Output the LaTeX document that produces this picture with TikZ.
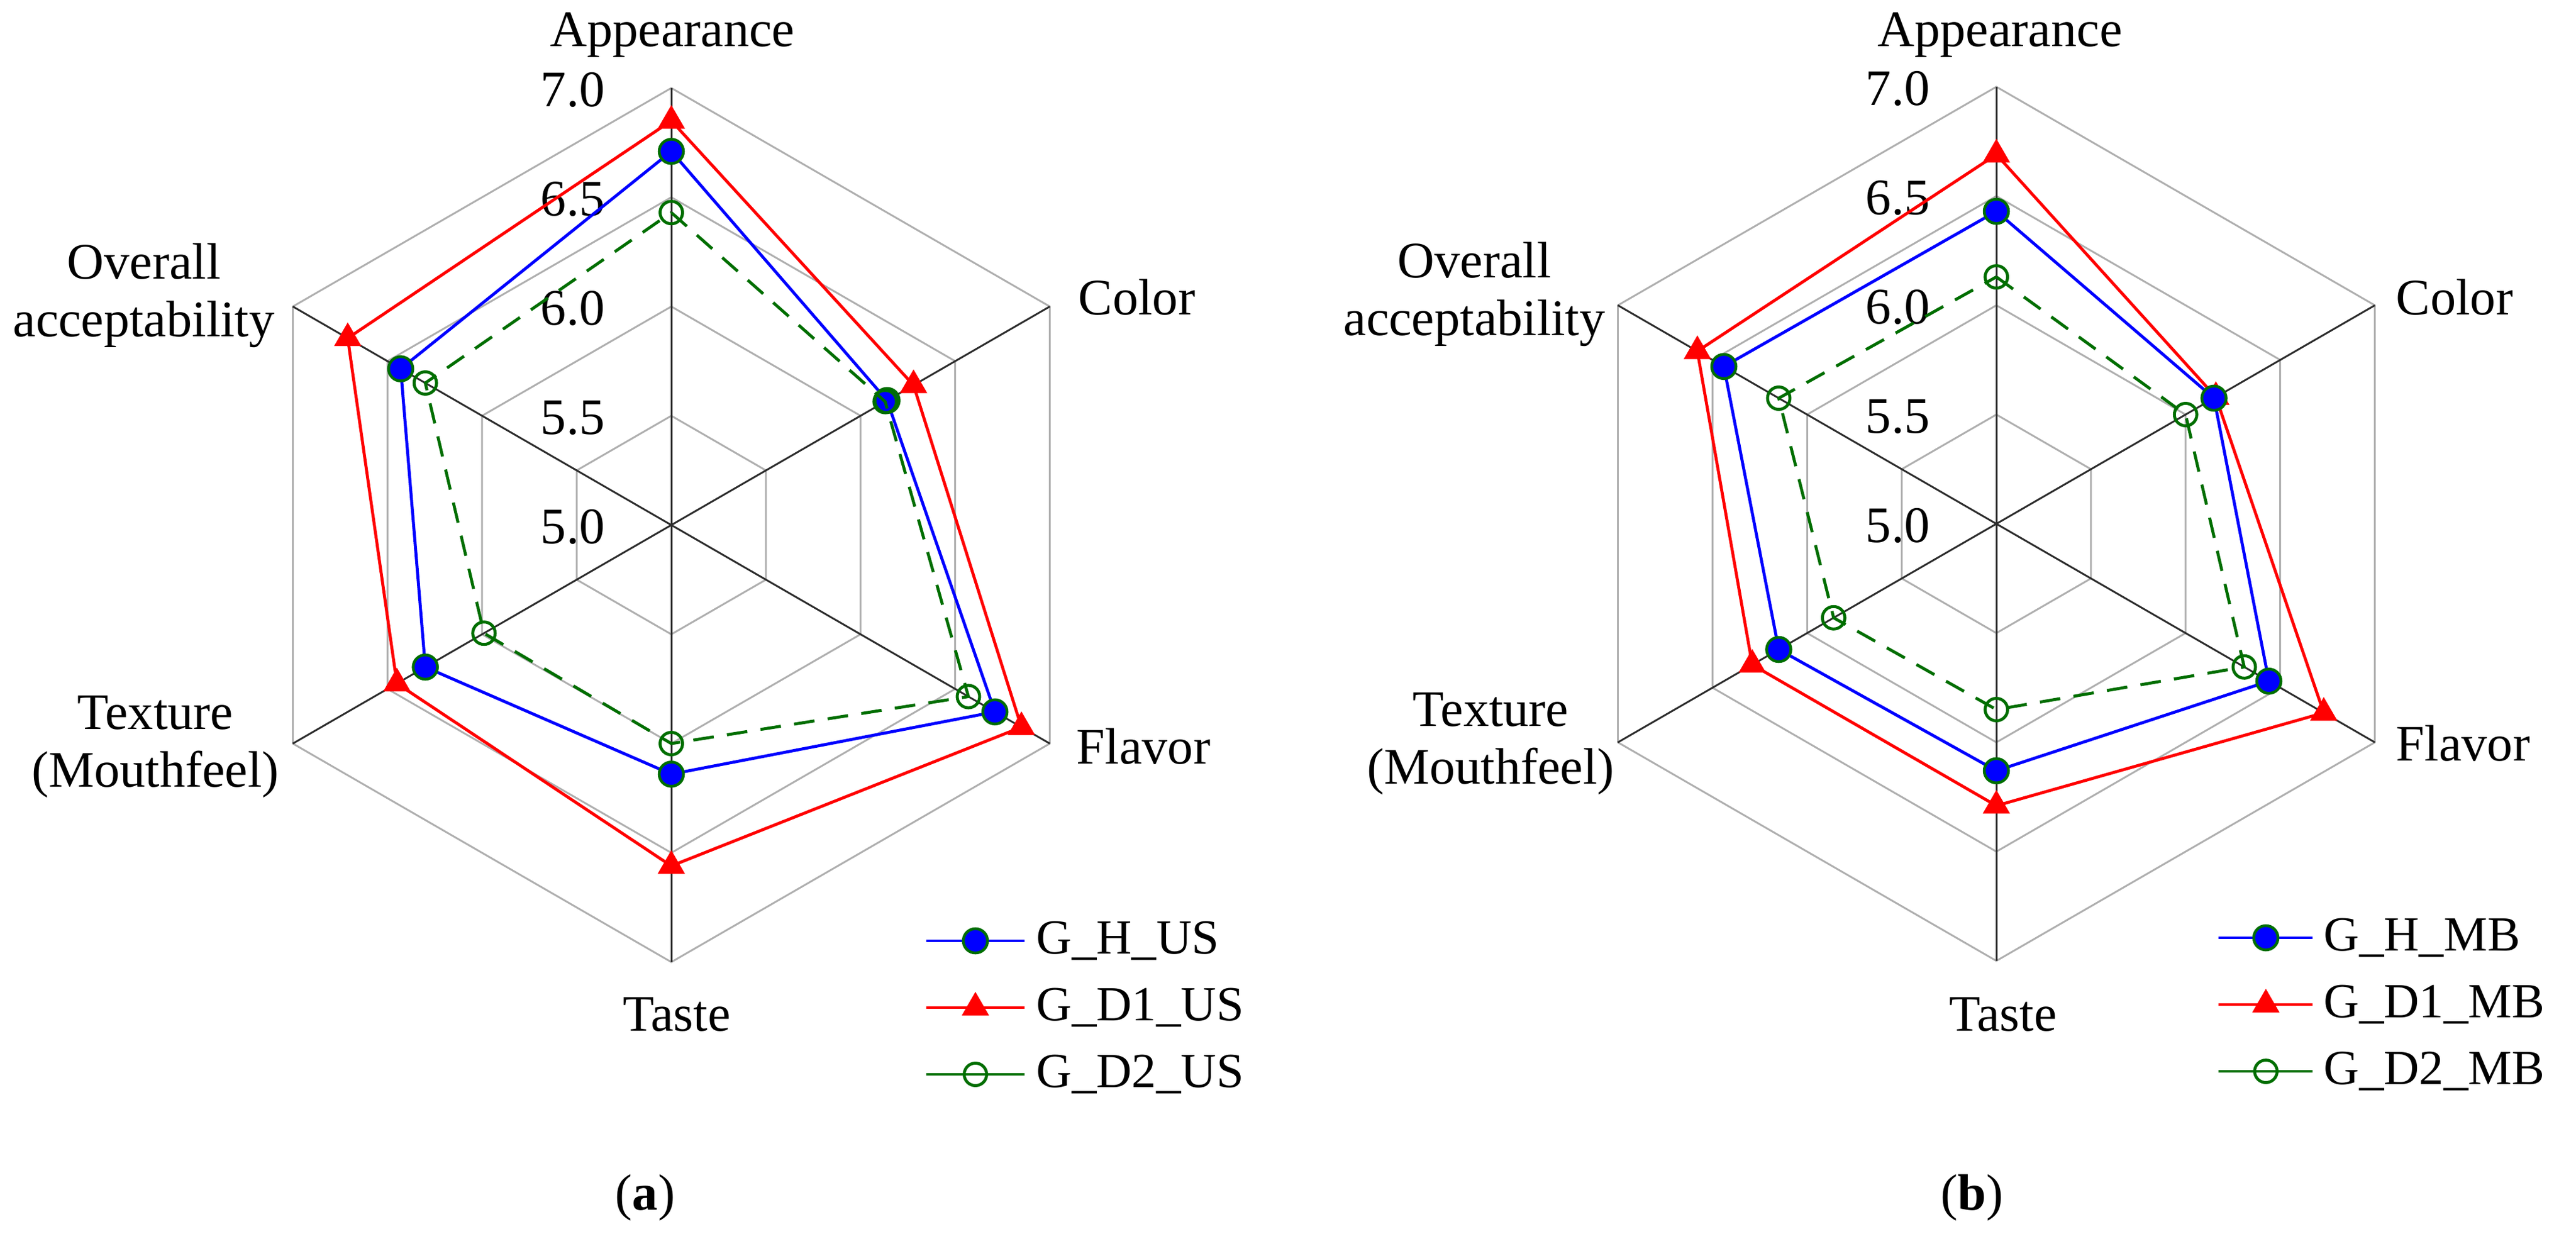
\documentclass[tikz,border=0pt]{standalone}
\usepackage{fontspec}
\setmainfont{Liberation Serif}
\usetikzlibrary{shapes.geometric}
\definecolor{dgreen}{RGB}{0,110,0}
\definecolor{ringgray}{RGB}{175,175,175}
\definecolor{axisgray}{RGB}{45,45,45}
\tikzset{
  lab/.style={font=\fontsize{24}{27}\selectfont, inner sep=0pt, align=center},
  leg/.style={font=\fontsize{23}{26}\selectfont, inner sep=0pt, anchor=west},
  ring/.style={draw=ringgray, line width=0.85pt},
  axis/.style={draw=axisgray, line width=0.85pt},
  lH/.style={draw=blue, line width=1.4pt, line join=round},
  lD1/.style={draw=red, line width=1.4pt, line join=round},
  lD2/.style={draw=dgreen, line width=1.4pt, dash pattern=on 0.34cm off 0.22cm},
  mH/.style={circle, fill=blue, draw=dgreen, line width=1.3pt, inner sep=0pt, minimum size=0.40cm},
  mD1/.style={regular polygon, regular polygon sides=3, fill=red, inner sep=0pt, minimum size=0.52cm},
  mD2/.style={circle, draw=dgreen, line width=1.4pt, inner sep=0pt, minimum size=0.37cm},
}
\newcommand\mkseries[4]{%
  \foreach \v [count=\i] in {#2} {\coordinate (#1\i) at ({90-60*(\i-1)}:{(\v-5)*3.6});}
  \draw[#3] (#11) -- (#12) -- (#13) -- (#14) -- (#15) -- (#16) -- cycle;
  \foreach \i in {1,...,6} {\node[#4] (#1m\i) at (#1\i) {};}
}
\newcommand\mkgrid[1]{%
  \foreach \r in {1,2,3,4} {\draw[ring] (90:{\r*1.8}) -- (30:{\r*1.8}) -- (-30:{\r*1.8}) -- (-90:{\r*1.8}) -- (-150:{\r*1.8}) -- (150:{\r*1.8}) -- cycle;}
  \foreach \a [count=\k] in {90,30,-30,-90,-150,150} {\coordinate (#1v\k) at (\a:7.2); \draw[axis] (#1c) -- (#1v\k);}
  \foreach \t [count=\k from 0] in {5.0,5.5,6.0,6.5,7.0} {\node[lab, anchor=east] (#1t\k) at (-1.09,{\k*1.8-0.03}) {\t};}
}
\begin{document}
\begin{tikzpicture}
\useasboundingbox (0,0) rectangle (42.44,-20.33);
% ---------- chart (a)
\begin{scope}[shift={(11.06,-8.65)}]
  \coordinate (ac) at (0,0);
  \mkgrid{a}
  \mkseries{aD}{6.85,6.28,6.85,6.56,6.45,6.71}{lD1}{mD1}
  \mkseries{aH}{6.71,6.14,6.71,6.14,6.30,6.43}{lH}{mH}
  \mkseries{aG}{6.43,6.13,6.57,6.00,5.99,6.30}{lD2}{mD2}
\end{scope}
\node[lab, anchor=base] (aApp) at (11.08,-0.77) {Appearance};
\node[lab] (aCol) at (18.73,-4.90) {Color};
\node[lab] (aOv) at (2.37,-4.87) {Overall\\acceptability};
\node[lab] (aFl) at (18.84,-12.30) {Flavor};
\node[lab] (aTx) at (2.56,-12.30) {Texture\\(Mouthfeel)};
\node[lab, anchor=base] (aTa) at (11.15,-16.98) {Taste};
\foreach \n/\s/\m/\y in {1/lH/mH/15.50, 2/lD1/mD1/16.60, 3/lD2/mD2/17.70} {
  \coordinate (aL\n a) at (15.26,-\y); \coordinate (aL\n b) at (16.88,-\y);
  \draw[\s, dash pattern=] (aL\n a) -- (aL\n b);
  \node[\m] (aLm\n) at (16.07,-\y) {};
}
\node[leg] (aLt1) at (17.07,-15.50) {G\_H\_US};
\node[leg] (aLt2) at (17.07,-16.60) {G\_D1\_US};
\node[leg] (aLt3) at (17.07,-17.70) {G\_D2\_US};
\node[lab] (acap) at (10.63,-19.73) {(\textbf{a})};
% ---------- chart (b)
\begin{scope}[shift={(32.89,-8.63)}]
  \coordinate (bc) at (0,0);
  \mkgrid{b}
  \mkseries{bD}{6.69,6.16,6.73,6.29,6.29,6.58}{lD1}{mD1}
  \mkseries{bH}{6.43,6.15,6.44,6.13,6.15,6.44}{lH}{mH}
  \mkseries{bG}{6.13,6.00,6.31,5.85,5.86,6.15}{lD2}{mD2}
\end{scope}
\node[lab, anchor=base] (bApp) at (32.95,-0.77) {Appearance};
\node[lab] (bCol) at (40.44,-4.90) {Color};
\node[lab] (bOv) at (24.29,-4.85) {Overall\\acceptability};
\node[lab] (bFl) at (40.58,-12.25) {Flavor};
\node[lab] (bTx) at (24.56,-12.25) {Texture\\(Mouthfeel)};
\node[lab, anchor=base] (bTa) at (33.00,-16.98) {Taste};
\foreach \n/\s/\m/\y in {1/lH/mH/15.45, 2/lD1/mD1/16.55, 3/lD2/mD2/17.65} {
  \coordinate (bL\n a) at (36.55,-\y); \coordinate (bL\n b) at (38.10,-\y);
  \draw[\s, dash pattern=] (bL\n a) -- (bL\n b);
  \node[\m] (bLm\n) at (37.33,-\y) {};
}
\node[leg] (bLt1) at (38.28,-15.45) {G\_H\_MB};
\node[leg] (bLt2) at (38.28,-16.55) {G\_D1\_MB};
\node[leg] (bLt3) at (38.28,-17.65) {G\_D2\_MB};
\node[lab] (bcap) at (32.49,-19.73) {(\textbf{b})};
\end{tikzpicture}
\end{document}
